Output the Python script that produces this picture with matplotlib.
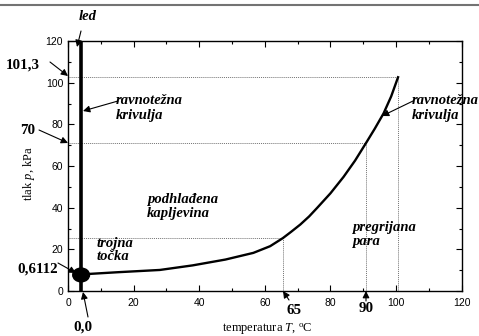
import matplotlib
matplotlib.use('Agg')
import matplotlib.pyplot as plt
from matplotlib.lines import Line2D
from matplotlib.patches import Ellipse
from matplotlib.ticker import MultipleLocator

plt.rcParams['font.family'] = ['Liberation Sans', 'DejaVu Sans']
plt.rcParams['mathtext.fontset'] = 'custom'
plt.rcParams['mathtext.rm'] = 'Liberation Serif'
plt.rcParams['mathtext.it'] = 'Liberation Serif:italic'

# krivulja isparavanja (ocitano sa slike)
T_curve = [6.5, 15, 28, 38, 48, 56.5, 61.6, 65.5, 68, 70.8, 73.5, 76, 80, 84, 87.5, 90.9, 93.5, 96.2, 98.5, 100.6]
p_curve = [8.2, 9.0, 10.1, 12.3, 15.1, 18.3, 21.5, 25.4, 28.4, 31.9, 35.8, 40.0, 46.9, 54.8, 62.6, 71.2, 77.9, 85.3, 93.4, 102.6]

# linija leda
T_ice = [4, 4]
p_ice = [0, 120]

# trojna tocka
T_triple = 4
p_triple = 7.7

# pomocne tockaste linije (T, p)
T_marks = [65.5, 90.9, 100.6]
p_marks = [25.5, 71.2, 102.6]

W, H = 479, 336
fig = plt.figure(figsize=(W / 100, H / 100), dpi=100)
ax = fig.add_axes([68 / W, 1 - 291 / H, (461.7 - 68) / W, 250 / H])


def fp(x, y):
    # piksel (od gore lijevo) -> figure fraction
    return (x / W, 1 - y / H)


for t, p in zip(T_marks, p_marks):
    ax.plot([0, t], [p, p], ls=(0, (1, 1)), color='0.45', lw=0.7)
    ax.plot([t, t], [0, p], ls=(0, (1, 1)), color='0.45', lw=0.7)

ax.plot(T_ice, p_ice, color='k', lw=2.6, solid_capstyle='butt', zorder=3)
ax.plot(T_curve, p_curve, color='k', lw=1.7, zorder=3, solid_joinstyle='round')
ax.add_patch(Ellipse((T_triple, p_triple), 5.1, 6.6, color='k', zorder=4, clip_on=False))

ax.set_xlim(0, 120)
ax.set_ylim(0, 120)
ax.xaxis.set_major_locator(MultipleLocator(20))
ax.xaxis.set_minor_locator(MultipleLocator(10))
ax.yaxis.set_major_locator(MultipleLocator(20))
ax.yaxis.set_minor_locator(MultipleLocator(10))
ax.tick_params(which='both', direction='in', top=True, right=True, labelsize=7.5, width=0.8)
ax.tick_params(which='major', length=4)
ax.tick_params(which='minor', length=2.5)
ax.tick_params(axis='x', pad=5)
for s in ax.spines.values():
    s.set_linewidth(1.0)

ax.set_xlabel('temperatura $T$, $^{\\mathrm{o}}$C', fontsize=9, family='Liberation Serif')
ax.set_ylabel('tlak $p$, kPa', fontsize=9, family='Liberation Serif')
ax.xaxis.set_label_coords(0.505, -0.122)
ax.yaxis.set_label_coords(-0.079, 0.47)

bi = dict(family='Liberation Serif', fontweight='bold', fontstyle='italic', fontsize=10.5)
bd = dict(family='Liberation Serif', fontweight='bold', fontsize=10.8)
arr = dict(arrowstyle='-|>', color='k', lw=0.8, mutation_scale=10, shrinkA=0, shrinkB=0)


def strelica(glava, rep):
    ax.annotate('', xy=fp(*glava), xytext=fp(*rep), xycoords='figure fraction',
                textcoords='figure fraction', arrowprops=arr, annotation_clip=False)


fig.text(*fp(88, 16), 'led', ha='center', va='center', **bi)
strelica((77, 47), (81, 31))

fig.text(*fp(23, 65), '101,3', ha='center', va='center', **bd)
strelica((68, 76), (50, 62))

fig.text(*fp(28, 131), '70', ha='center', va='center', **bd)
strelica((68, 143), (39, 130))

fig.text(*fp(116, 108), 'ravnote\u017ena\nkrivulja', ha='left', va='center', linespacing=1.1, **bi)
strelica((83, 111), (118, 101))

fig.text(*fp(412, 108), 'ravnote\u017ena\nkrivulja', ha='left', va='center', linespacing=1.1, **bi)
strelica((382, 116), (413, 101))

fig.text(*fp(147, 207), 'podhla\u0111ena\nkapljevina', ha='left', va='center', linespacing=1.1, **bi)
fig.text(*fp(97, 250), 'trojna\nto\u010dka', ha='left', va='center', linespacing=1.1, **bi)
fig.text(*fp(352, 234), 'pregrijana\npara', ha='left', va='center', linespacing=1.1, **bi)

fig.text(*fp(38, 269), '0,6112', ha='center', va='center', **bd)
strelica((76, 273), (58, 263))

fig.text(*fp(83, 327), '0,0', ha='center', va='center', **bd)
strelica((83, 292), (88, 317))

fig.text(*fp(294, 311), '65', ha='center', va='center', **bd)
strelica((283, 291), (289, 300))

fig.text(*fp(366, 309), '90', ha='center', va='center', **bd)
strelica((366, 291), (366, 301))

fig.add_artist(Line2D([0, 1], [1 - 5 / H, 1 - 5 / H], transform=fig.transFigure, color='0.45', lw=1.5))

fig.savefig('out.png', dpi=100)
